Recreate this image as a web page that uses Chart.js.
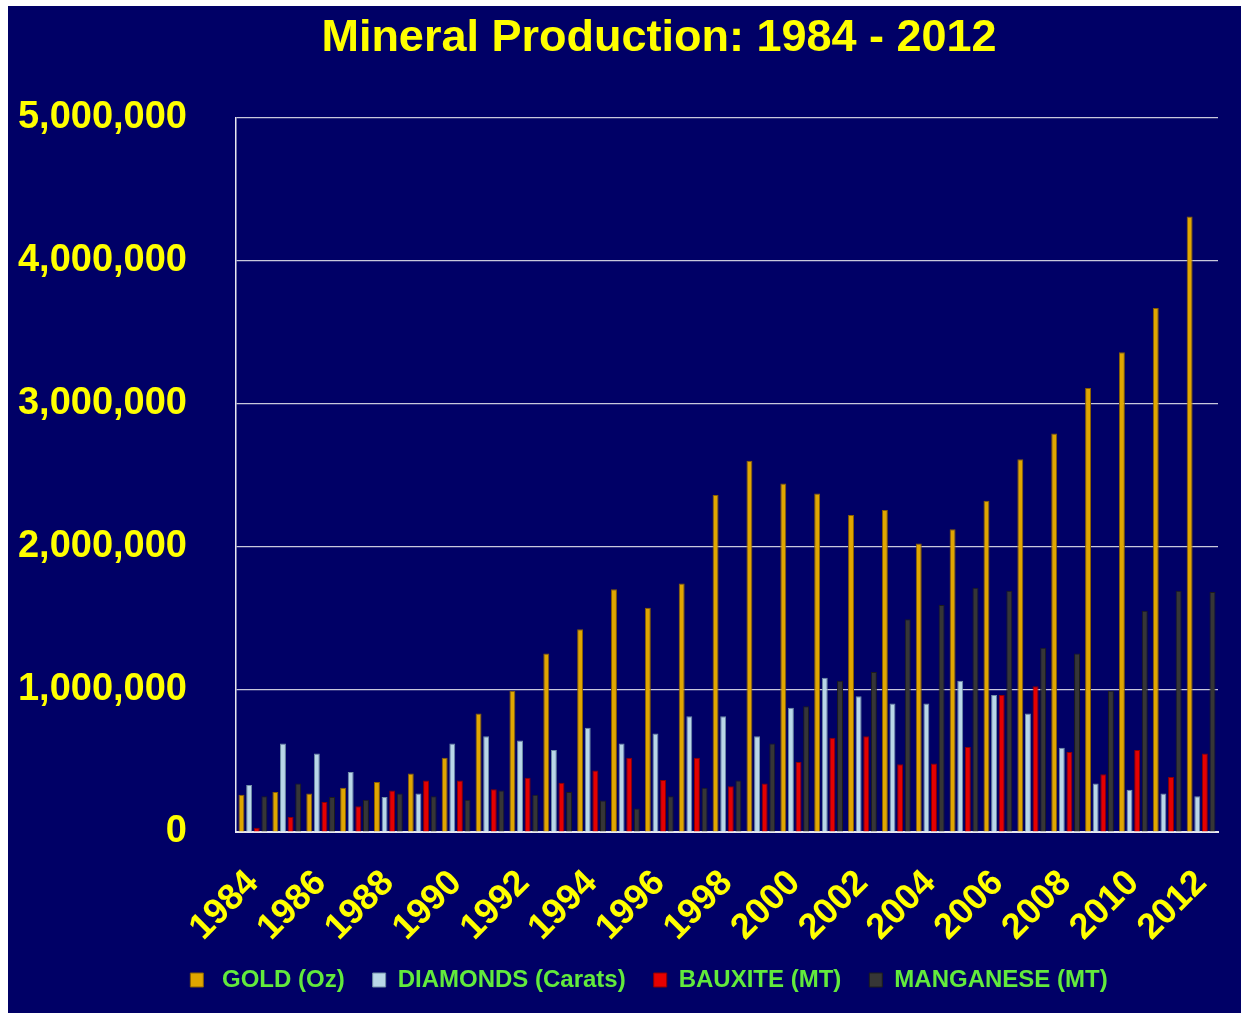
<!DOCTYPE html>
<html>
<head>
<meta charset="utf-8">
<script src="https://cdn.jsdelivr.net/npm/chart.js@4.4.1/dist/chart.umd.min.js"></script>
<style>
  body{ margin:0; background:#ffffff; }
  #wrap{
    position:absolute; left:8px; top:6px;
    width:1233px; height:1007px;
    background:#000066;
  }
</style>
</head>
<body>
<div id="wrap"><canvas id="mineralChart"></canvas></div>
<script>
/* =========================
   DATA
========================= */
const years = ['1984','1985','1986','1987','1988','1989','1990','1991','1992','1993',
  '1994','1995','1996','1997','1998','1999','2000','2001','2002','2003',
  '2004','2005','2006','2007','2008','2009','2010','2011','2012'];

const gold = [260000, 280000, 270000, 310000, 350000, 410000, 520000, 830000, 990000, 1250000,
  1420000, 1700000, 1570000, 1740000, 2360000, 2600000, 2440000, 2370000, 2220000, 2255000,
  2020000, 2120000, 2320000, 2610000, 2790000, 3110000, 3360000, 3670000, 4310000];

const diamonds = [330000, 620000, 550000, 420000, 245000, 270000, 620000, 670000, 640000, 575000,
  730000, 620000, 690000, 810000, 810000, 670000, 870000, 1080000, 950000, 900000,
  900000, 1060000, 960000, 830000, 590000, 340000, 295000, 270000, 250000];

const bauxite = [30000, 105000, 210000, 180000, 290000, 360000, 360000, 300000, 380000, 345000,
  430000, 520000, 365000, 520000, 320000, 340000, 490000, 660000, 670000, 475000,
  480000, 595000, 960000, 1020000, 560000, 405000, 575000, 385000, 550000];

const manganese = [250000, 340000, 245000, 225000, 270000, 250000, 225000, 290000, 260000, 280000,
  220000, 165000, 250000, 310000, 360000, 620000, 880000, 1060000, 1120000, 1490000,
  1590000, 1710000, 1690000, 1290000, 1250000, 990000, 1550000, 1690000, 1680000];

const yTicks = [0, 1000000, 2000000, 3000000, 4000000, 5000000];

/* =========================
   STYLE
========================= */
const FONT = "'Liberation Sans', Arial, sans-serif";
const YELLOW = '#ffff00';
const GREEN = '#62ea3c';

function serie(label, data, fill, edge){
  return {
    label: label,
    data: data,
    backgroundColor: fill,
    borderColor: edge,
    borderWidth: 1,
    barPercentage: 0.78,
    categoryPercentage: 0.9
  };
}

// title en legend staan in het origineel iets rechts van het midden
const shiftBlocks = {
  id: 'shiftBlocks',
  afterLayout(chart){
    const t = chart.titleBlock;
    if(t){ t.left += 46; t.right += 46; }
    const l = chart.legend;
    if(l){ l.left += 36; l.right += 36; }
  }
};

/* =========================
   CHART
========================= */
const ctx = document.getElementById('mineralChart');

new Chart(ctx, {
  type: 'bar',
  data: {
    labels: years,
    datasets: [
      serie(' GOLD (Oz)', gold, '#e0a600', '#8a6000'),
      serie('DIAMONDS (Carats)', diamonds, '#b9d7e8', '#6f8ea6'),
      serie('BAUXITE (MT)', bauxite, '#e60000', '#8c0000'),
      serie('MANGANESE (MT)', manganese, '#363636', '#1c1c1c')
    ]
  },
  plugins: [shiftBlocks],
  options: {
    responsive: true,
    maintainAspectRatio: false,
    animation: false,
    layout: { padding: { left: 0, right: 23, top: 0, bottom: 11 } },
    plugins: {
      title: {
        display: true,
        text: 'Mineral Production: 1984 - 2012',
        color: YELLOW,
        font: { family: FONT, size: 45, weight: 'bold', lineHeight: 1.2 },
        padding: { top: 6, bottom: 52 }
      },
      legend: {
        position: 'bottom',
        labels: {
          color: GREEN,
          font: { family: FONT, size: 24, weight: 'bold' },
          boxWidth: 13,
          boxHeight: 14,
          padding: 28
        }
      },
      tooltip: { enabled: false }
    },
    scales: {
      x: {
        grid: { display: false, drawTicks: false },
        border: { color: '#e8e8f0', width: 2 },
        ticks: {
          color: YELLOW,
          font: { family: FONT, size: 36, weight: 'bold' },
          autoSkip: false,
          maxRotation: 45,
          minRotation: 45,
          padding: 30,
          callback: (v, i) => i % 2 === 0 ? years[i] : ''
        },
        afterFit: (s) => {
          s.height = 108;
          s.paddingLeft = 0;
          s.paddingRight = 0;
        }
      },
      y: {
        min: 0,
        max: 5000000,
        afterBuildTicks: (s) => { s.ticks = yTicks.map(v => ({ value: v })); },
        grid: { color: '#c8c8dc', lineWidth: 1.2, drawTicks: false },
        border: { color: '#e8e8f0', width: 1.5 },
        ticks: {
          color: YELLOW,
          font: { family: FONT, size: 38, weight: 'bold' },
          padding: 49,
          callback: (v) => v.toLocaleString('en-US')
        },
        afterFit: (s) => { s.width = 228; }
      }
    }
  }
});
</script>
</body>
</html>
